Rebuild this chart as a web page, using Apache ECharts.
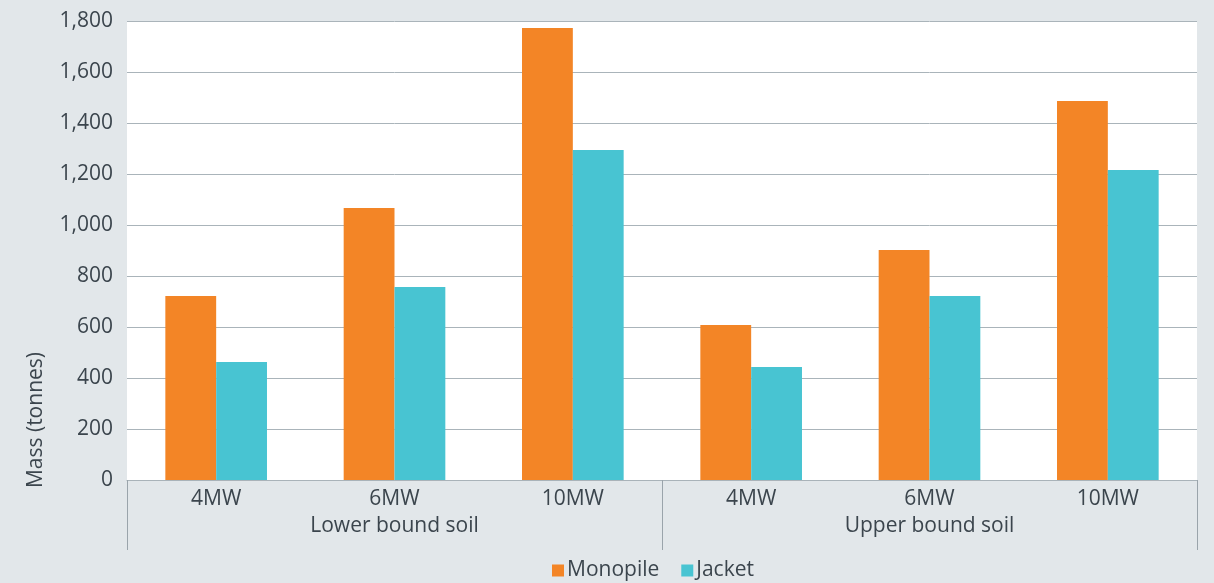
<!DOCTYPE html>
<html><head><meta charset="utf-8">
<script src="https://cdn.jsdelivr.net/npm/echarts@6/dist/echarts.min.js"></script>
<style>html,body{margin:0;padding:0;background:#e2e7ea}#c{width:1214px;height:583px}</style>
</head><body><div id="c"></div>
<script>
const capacities = ['4MW','6MW','10MW','4MW','6MW','10MW'];
const soilGroups = ['Lower bound soil','Upper bound soil'];
const monopile = [722, 1067, 1773, 608, 902, 1486];
const jacket = [463, 757, 1294, 443, 722, 1216];
const yTicks = {min: 0, max: 1800, interval: 200};

const FONT = 'Open Sans';
const FS = 21;
const TXT = '#3b454d';
const chart = echarts.init(document.getElementById('c'));
chart.setOption({
  backgroundColor: '#e2e7ea',
  textStyle: {fontFamily: FONT},
  grid: {left: 127, right: 17, top: 21, bottom: 103, show: true, backgroundColor: '#ffffff', borderWidth: 0},
  legend: {
    top: 560, left: 552, padding: 0, itemWidth: 12, itemHeight: 12, itemGap: 22,
    icon: 'rect',
    textStyle: {fontFamily: FONT, fontSize: FS, color: TXT, padding: [0,0,0,-2]},
    data: ['Monopile','Jacket']
  },
  xAxis: [{
    type: 'category', data: capacities, position: 'bottom',
    axisLine: {show: true, lineStyle: {color: '#a9b3b9', width: 1}},
    axisTick: {show: false},
    axisLabel: {fontFamily: FONT, fontSize: FS, color: TXT, margin: 9}
  }, {
    type: 'category', data: soilGroups, position: 'bottom',
    axisLine: {show: false},
    axisTick: {show: true, length: 70, lineStyle: {color: '#9aa4ab', width: 1}},
    axisLabel: {fontFamily: FONT, fontSize: FS, color: TXT, margin: 36}
  }],
  yAxis: {
    type: 'value', min: yTicks.min, max: yTicks.max, interval: yTicks.interval,
    axisLine: {show: false}, axisTick: {show: false},
    splitLine: {lineStyle: {color: '#aab4ba', width: 1}},
    axisLabel: {fontFamily: FONT, fontSize: FS, color: TXT, margin: 14,
      formatter: v => v.toLocaleString('en-US')}
  },
  graphic: [{
    type: 'text', left: 26, top: 352, rotation: Math.PI/2,
    style: {text: 'Mass (tonnes)', fontFamily: FONT, fontSize: FS, fill: TXT}
  }],
  series: [{
    name: 'Monopile', type: 'bar', data: monopile, xAxisIndex: 0,
    barGap: '0%', barCategoryGap: '43%',
    itemStyle: {color: '#f38526'}
  }, {
    name: 'Jacket', type: 'bar', data: jacket, xAxisIndex: 0,
    barGap: '0%', barCategoryGap: '43%',
    itemStyle: {color: '#48c4d2'}
  }]
});
</script></body></html>
